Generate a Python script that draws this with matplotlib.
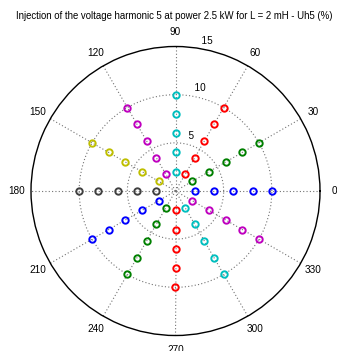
import numpy as np
import matplotlib
matplotlib.use("Agg")
import matplotlib.pyplot as plt

plt.rcParams['font.family'] = ['Liberation Sans', 'DejaVu Sans']

# ---- data ----
title = "Injection of the voltage harmonic 5 at power 2.5 kW for L = 2 mH - Uh5 (%)"
series_angles_deg = [0, 30, 60, 90, 120, 150, 180, 210, 240, 270, 300, 330]
series_radii = [
    [2, 4, 6, 8, 10],   # 0
    [2, 4, 6, 8, 10],   # 30
    [2, 4, 6, 8, 10],   # 60
    [2, 4, 6, 8, 10],   # 90
    [2, 4, 6, 8, 10],   # 120
    [2, 4, 6, 8, 10],   # 150
    [2, 4, 6, 8, 10],   # 180
    [2, 4, 6, 8, 10],   # 210
    [2, 4, 6, 8, 10],   # 240
    [2, 4, 6, 8, 10],   # 270
    [2, 4, 6, 8, 10],   # 300
    [2, 4, 6, 8, 10],   # 330
]
matlab_colors = [(0, 0, 1), (0, 0.5, 0), (1, 0, 0), (0, 0.75, 0.75),
                 (0.75, 0, 0.75), (0.75, 0.75, 0), (0.25, 0.25, 0.25)]
ring_values = [5, 10, 15]
angle_ticks = [0, 30, 60, 90, 120, 150, 180, 210, 240, 270, 300, 330]
rmax = 15

# ---- figure ----
W, H = 337, 351
fig = plt.figure(figsize=(W / 100, H / 100), dpi=100)
cx, cy, R = 175.5, 191.0, 144.5
ax = fig.add_axes([(cx - R) / W, (H - cy - R) / H, 2 * R / W, 2 * R / H],
                  projection='polar')
ax.set_ylim(0, rmax)
ax.set_rgrids(ring_values[:-1], labels=[''] * (len(ring_values) - 1))
ax.set_thetagrids(angle_ticks, labels=[''] * len(angle_ticks))
ax.grid(True, color='0.45', linestyle=(0, (1, 2)), linewidth=0.8)
ax.spines['polar'].set_color('black')
ax.spines['polar'].set_linewidth(1.0)
ax.tick_params(pad=0)

# data points
for i, (ang, radii) in enumerate(zip(series_angles_deg, series_radii)):
    col = matlab_colors[i % len(matlab_colors)]
    th = np.full(len(radii), np.deg2rad(ang))
    ax.plot(th, radii, linestyle='none', marker='o', markersize=4.6,
            markerfacecolor='none', markeredgecolor=col, markeredgewidth=1.4,
            zorder=5, clip_on=False)

# angle labels
for a in angle_ticks:
    ax.text(np.deg2rad(a), 1.1 * rmax, str(a), ha='center', va='center',
            fontsize=7.2, clip_on=False)

# ring labels
for rv in ring_values:
    ax.text(np.deg2rad(82), rv + (ring_values[1] - ring_values[0]) / 20, '  ' + str(rv),
            ha='left', va='bottom', fontsize=7.2, clip_on=False)

fig.text(174 / W, 1 - 16 / H, title, ha='center', va='center', fontsize=6.95)

fig.savefig('out.png', dpi=100)
